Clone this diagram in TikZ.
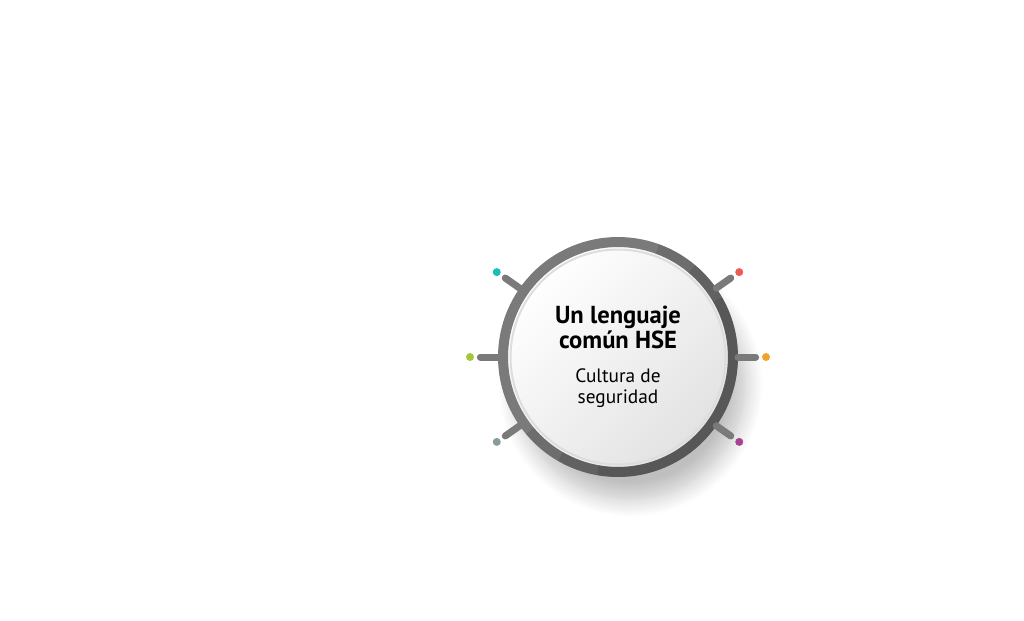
\documentclass[tikz,border=0pt]{standalone}
\usepackage{fontspec}
\setmainfont{PT Sans}
\usetikzlibrary{positioning,shadows.blur}
\definecolor{RingGray}{HTML}{7A7A7A}
\definecolor{HubGray}{HTML}{E2E2E2}
\definecolor{RimGray}{HTML}{DDDDDD}
\definecolor{DotTeal}{HTML}{19BDC1}
\definecolor{DotLime}{HTML}{A2C73A}
\definecolor{DotSlate}{HTML}{889A9B}
\definecolor{DotRed}{HTML}{EE5B57}
\definecolor{DotOrange}{HTML}{F2A12C}
\definecolor{DotPlum}{HTML}{A7438C}

\begin{document}
\begin{tikzpicture}[x=0.02cm, y=0.02cm,
                      hubnode/.style={circle, minimum size=4.6cm, inner sep=0pt, align=center,
                                      draw=RingGray, line width=0.2cm,
                                      top color=white, bottom color=HubGray, shading angle=45,
                                      blur shadow={shadow xshift=0.25cm, shadow yshift=-0.55cm,
                                                   shadow blur radius=0.35cm, shadow blur steps=12,
                                                   shadow opacity=25}},
                      ringshade/.style={draw=black, line width=0.2cm, opacity=0.1},
                      tick/.style={draw=RingGray, line width=0.14cm, line cap=round, shorten >=0.12cm},
                      dotnode/.style={circle, inner sep=0pt, minimum size=0.16cm}]
  \useasboundingbox (0,0) rectangle (1024,620);
  \node[hubnode] (hub) at (618,263)
    {\fontsize{14}{16.6}\selectfont\bfseries Un lenguaje\\
     \fontsize{14}{16.6}\selectfont\bfseries común HSE\\[0.26cm]
     \fontsize{11}{14}\selectfont Cultura de\\
     \fontsize{11}{14}\selectfont seguridad};
  % darker side of the ring
  \draw[ringshade] ([shift={(-140:115)}]hub.center) arc[start angle=-140, end angle=70, radius=2.3cm];
  \draw[ringshade] ([shift={(-120:115)}]hub.center) arc[start angle=-120, end angle=50, radius=2.3cm];
  \draw[ringshade] ([shift={(-100:115)}]hub.center) arc[start angle=-100, end angle=30, radius=2.3cm];
  \draw[draw=RimGray, line width=0.04cm] (hub.center) circle[radius=2.15cm];
  % dots round the ring
  \node[dotnode, fill=DotTeal]   (teal)   at ([shift={(145:148)}]hub.center) {};
  \node[dotnode, fill=DotLime]   (lime)   at ([shift={(180:148)}]hub.center) {};
  \node[dotnode, fill=DotSlate]  (slate)  at ([shift={(215:148)}]hub.center) {};
  \node[dotnode, fill=DotRed]    (red)    at ([shift={(35:148)}]hub.center) {};
  \node[dotnode, fill=DotOrange] (orange) at ([shift={(0:148)}]hub.center) {};
  \node[dotnode, fill=DotPlum]   (plum)   at ([shift={(-35:148)}]hub.center) {};
  \draw[tick] (hub.145) -- (teal);
  \draw[tick] (hub.180) -- (lime);
  \draw[tick] (hub.215) -- (slate);
  \draw[tick] (hub.35) -- (red);
  \draw[tick] (hub.0) -- (orange);
  \draw[tick] (hub.-35) -- (plum);
\end{tikzpicture}
\end{document}
